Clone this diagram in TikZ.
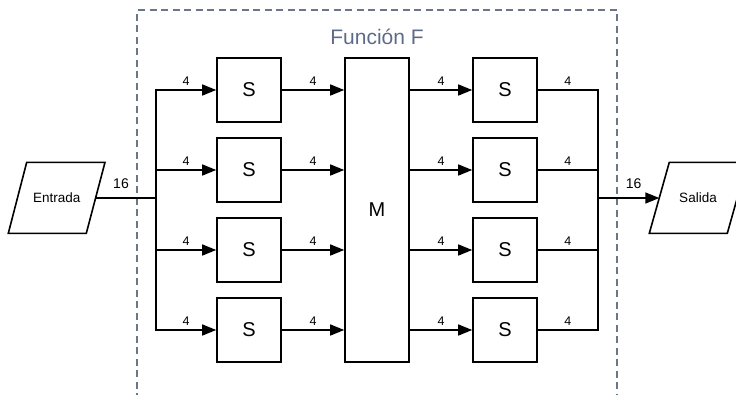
\documentclass[tikz,border=0pt]{standalone}
\usepackage{fontspec}
\setmainfont{Liberation Sans}
\usetikzlibrary{arrows.meta}
\definecolor{framegray}{HTML}{6B7788}
\definecolor{titleblue}{HTML}{5D6B86}

\begin{document}
\begin{tikzpicture}[x=1pt,y=-1pt,
  box/.style={draw, line width=1.6pt, minimum width=64pt, minimum height=64pt,
    inner sep=0pt, font=\fontsize{20}{20}\selectfont},
  iotext/.style={inner sep=0pt, font=\fontsize{13.5}{14}\selectfont},
  ioshape/.style={line width=1.6pt, line join=miter},
  wire/.style={line width=1.5pt},
  arr/.style={wire, -{Triangle[length=14pt,width=11pt]}},
  lbl/.style={font=\fontsize{12.5}{12.5}\selectfont, inner sep=0pt, above=4pt},
  biglbl/.style={font=\fontsize{14}{14}\selectfont, inner sep=0pt, above=8.5pt}
]
\useasboundingbox (0,0) rectangle (736,394);
\clip (0,0) rectangle (736,394);

% frame of the function block (open at the bottom)
\draw[framegray, line width=1.3pt, dash pattern=on 7pt off 4.5pt]
  (137,400) -- (137,10) -- (617,10) -- (617,400);
\node[titleblue, font=\fontsize{21}{21}\selectfont] (title) at (377,37) {Función F};

% input parallelogram
\draw[ioshape] (26.7,162.3) -- (105,162.3) -- (86.3,233.3) -- (8.3,233.3) -- cycle;
\node[iotext] (in) at (56.7,198) {Entrada};
\coordinate (in-e) at (95.7,198);

% output parallelogram
\draw[ioshape] (669.3,162.3) -- (747.3,162.3) -- (727.3,233.3) -- (649.3,233.3) -- cycle;
\node[iotext] (out) at (698,198) {Salida};
\coordinate (out-w) at (659.3,198);

% substitution boxes and mixing box
\foreach \i/\y in {1/90,2/170,3/250,4/330}{
  \node[box] (sl\i) at (249,\y) {S};
  \node[box] (sr\i) at (505,\y) {S};
}
\node[box, minimum height=304pt] (m) at (377,210) {M};

% bus junctions
\coordinate (jin) at (156,198);
\coordinate (jout) at (598,198);

\draw[wire] (in-e) -- node[biglbl, pos=0.42]{16} (jin);
\draw[arr] (jout) -- node[biglbl, pos=0.58]{16} (out-w);

\foreach \i in {1,2,3,4}{
  \draw[arr] (jin) |- node[lbl, pos=0.75]{4} (sl\i.west);
  \draw[arr] (sl\i.east) -- node[lbl]{4} (sl\i.east -| m.west);
  \draw[arr] (sr\i.west -| m.east) -- node[lbl]{4} (sr\i.west);
  \draw[wire] (sr\i.east) -| node[lbl, pos=0.25]{4} (jout);
}
\end{tikzpicture}
\end{document}
